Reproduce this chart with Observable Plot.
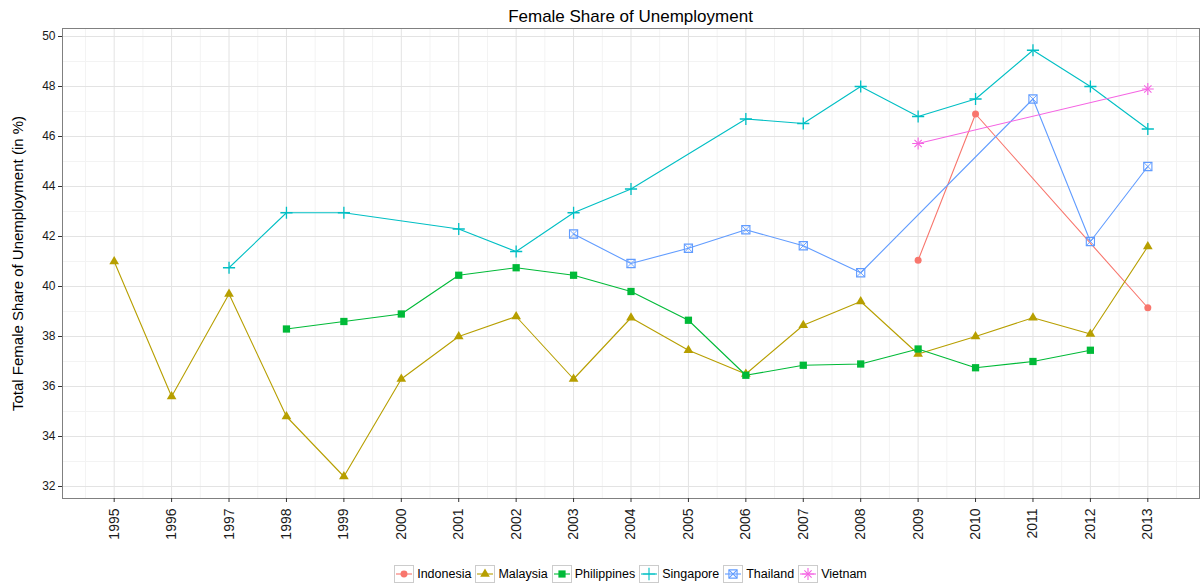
<!DOCTYPE html>
<html><head><meta charset="utf-8">
<script src="https://cdn.jsdelivr.net/npm/d3@7"></script>
<script src="https://cdn.jsdelivr.net/npm/@observablehq/plot@0.6"></script>
<style>
body{margin:0;background:#fff;font-family:"Liberation Sans",Arial,sans-serif;}
#wrap{position:relative;width:1201px;height:584px;overflow:hidden;background:#fff;}
#title{position:absolute;left:62px;width:1137px;top:8px;text-align:center;font-size:17px;color:#000;line-height:18px;}
#chart{position:absolute;left:0;top:27px;}
#legend{position:absolute;left:62px;width:1137px;top:565px;display:flex;justify-content:center;align-items:center;font-size:12.5px;color:#000;}
#legend .item{display:flex;align-items:center;margin:0 2px;}
#legend svg{display:block;margin-right:3px;}
</style></head><body>
<div id="wrap"><div id="title">Female Share of Unemployment</div><div id="chart"></div><div id="legend"></div></div>
<script>
const years = [1995,1996,1997,1998,1999,2000,2001,2002,2003,2004,2005,2006,2007,2008,2009,2010,2011,2012,2013];
const countries = ["Indonesia","Malaysia","Philippines","Singapore","Thailand","Vietnam"];
const colors = ["#F8766D","#B79F00","#00BA38","#00BFC4","#619CFF","#F564E3"];
const indonesia   = [null,null,null,null,null,null,null,null,null,null,null,null,null,null,41.05,46.9,null,null,39.15];
const malaysia    = [41.0,35.6,39.7,34.8,32.4,36.3,38.0,38.8,36.3,38.75,37.45,36.5,38.45,39.4,37.3,38.0,38.75,38.1,41.6];
const philippines = [null,null,null,38.3,38.6,38.9,40.45,40.75,40.45,39.8,38.65,36.45,36.85,36.9,37.5,36.75,37.0,37.45,null];
const singapore   = [null,null,40.75,42.95,42.95,null,42.3,41.4,42.95,43.9,null,46.7,46.52,48.0,46.8,47.5,49.45,48.0,46.3];
const thailand    = [null,null,null,null,null,null,null,null,42.1,40.92,41.53,42.27,41.63,40.55,null,null,47.5,41.8,44.8];
const vietnam     = [null,null,null,null,null,null,null,null,null,null,null,null,null,null,45.72,null,null,null,47.9];
const yTicks = [32,34,36,38,40,42,44,46,48,50];
const minorY = [33,35,37,39,41,43,45,47,49];
const minorX = years.map(y => y + 0.5).concat([1994.5]);
const yLabel = "Total Female Share of Unemployment (in %)";

const series = [indonesia, malaysia, philippines, singapore, thailand, vietnam];
const rows = [];
countries.forEach((c, i) => series[i].forEach((v, j) => { if (v != null) rows.push({country: c, year: years[j], value: v}); }));
const by = c => rows.filter(d => d.country === c);
const col = c => colors[countries.indexOf(c)];

const font = '"Liberation Sans", Arial, sans-serif';
const plot = Plot.plot({
  width: 1201, height: 522,
  marginLeft: 62, marginRight: 2, marginTop: 1, marginBottom: 51,
  style: {fontFamily: font, fontSize: "12px", color: "#1a1a1a", background: "#fff", overflow: "visible"},
  x: {type: "linear", domain: [1994.1, 2013.9]},
  y: {domain: [31.52, 50.32]},
  color: {domain: countries, range: colors},
  marks: [
    Plot.gridX(minorX, {stroke: "#f3f3f3", strokeOpacity: 1}),
    Plot.gridY(minorY, {stroke: "#f3f3f3", strokeOpacity: 1}),
    Plot.gridX(years, {stroke: "#e3e3e3", strokeOpacity: 1}),
    Plot.gridY(yTicks, {stroke: "#e3e3e3", strokeOpacity: 1}),
    Plot.line(rows, {x: "year", y: "value", z: "country", stroke: "country", strokeWidth: 1.1}),
    Plot.dot(by("Indonesia"), {x: "year", y: "value", symbol: "circle", r: 3.5, fill: col("Indonesia"), stroke: "none"}),
    Plot.dot(by("Malaysia"), {x: "year", y: "value", symbol: "triangle", r: 3.6, fill: col("Malaysia"), stroke: "none"}),
    Plot.dot(by("Philippines"), {x: "year", y: "value", symbol: "square", r: 4.1, fill: col("Philippines"), stroke: "none"}),
    Plot.dot(by("Singapore"), {x: "year", y: "value", symbol: "plus", r: 4.0, stroke: col("Singapore"), strokeWidth: 1.3}),
    Plot.dot(by("Thailand"), {x: "year", y: "value", symbol: "square2", r: 5.2, stroke: col("Thailand"), strokeWidth: 1.1, fill: "none"}),
    Plot.dot(by("Thailand"), {x: "year", y: "value", symbol: "times", r: 3.7, stroke: col("Thailand"), strokeWidth: 0.9}),
    Plot.dot(by("Vietnam"), {x: "year", y: "value", symbol: "plus", r: 3.9, stroke: col("Vietnam"), strokeWidth: 1.1}),
    Plot.dot(by("Vietnam"), {x: "year", y: "value", symbol: "times", r: 3.4, stroke: col("Vietnam"), strokeWidth: 1.1}),
    Plot.frame({stroke: "#808080", strokeWidth: 1}),
    Plot.axisX(years, {tickRotate: -90, tickSize: 4, tickPadding: 6, tickFormat: d => String(d), label: null, stroke: "#333", fill: "#1a1a1a", fontSize: 14}),
    Plot.axisY(yTicks, {tickSize: 4, tickPadding: 3, label: null, stroke: "#333", fill: "#1a1a1a", fontSize: 12}),
    Plot.text([yLabel], {text: d => d, frameAnchor: "left", dx: -44.5, rotate: -90, fontSize: 15, textAnchor: "middle", lineAnchor: "middle", fill: "#000"})
  ]
});
document.getElementById("chart").appendChild(plot);

// legend
const symbolsFor = {
  Indonesia: [[d3.symbolCircle, 38, "fill"]],
  Malaysia: [[d3.symbolTriangle, 40, "fill"]],
  Philippines: [[d3.symbolSquare, 52, "fill"]],
  Singapore: [[d3.symbolPlus, 52, "stroke"]],
  Thailand: [[d3.symbolSquare2, 85, "stroke"], [d3.symbolTimes, 43, "stroke"]],
  Vietnam: [[d3.symbolPlus, 50, "stroke"], [d3.symbolTimes, 36, "stroke"]]
};
const leg = d3.select("#legend");
countries.forEach((c, i) => {
  const item = leg.append("div").attr("class", "item");
  const s = item.append("svg").attr("width", 20).attr("height", 18);
  s.append("rect").attr("x", 0.5).attr("y", 0.5).attr("width", 19).attr("height", 17).attr("fill", "#fff").attr("stroke", "#cccccc");
  s.append("line").attr("x1", 2).attr("x2", 18).attr("y1", 9).attr("y2", 9).attr("stroke", colors[i]).attr("stroke-width", 1.1);
  symbolsFor[c].forEach(([sym, size, mode]) => {
    const p = s.append("path").attr("d", d3.symbol(sym, size)()).attr("transform", "translate(10,9)");
    if (mode === "fill") p.attr("fill", colors[i]); else p.attr("fill", "none").attr("stroke", colors[i]).attr("stroke-width", 1.1);
  });
  item.append("span").text(c);
});
</script>
</body></html>
